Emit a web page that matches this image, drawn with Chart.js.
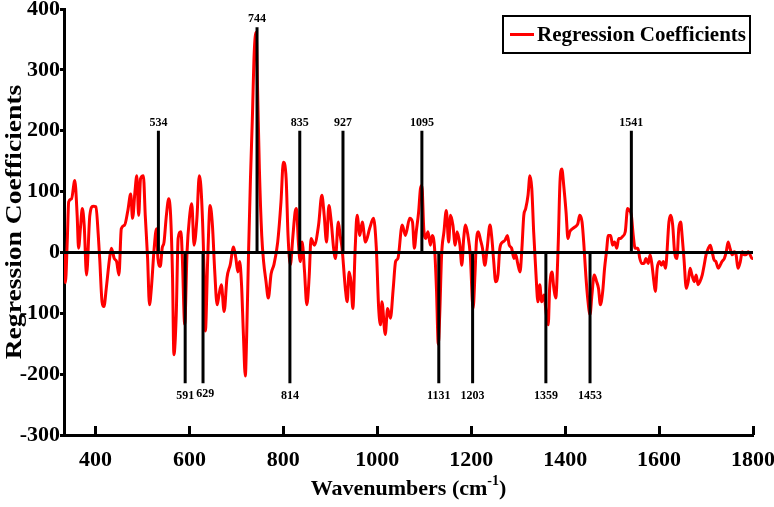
<!DOCTYPE html>
<html>
<head>
<meta charset="utf-8">
<script src="https://cdn.jsdelivr.net/npm/chart.js@4"></script>
<style>
  body { margin: 0; background: #fff; }
  #wrap { width: 774px; height: 507px; }
</style>
</head>
<body>
<div id="wrap"><canvas id="grafica" width="774" height="507"></canvas></div>
<script>
// espectro
const waves = [
  333, 336, 340, 343, 349, 356, 361, 364, 368, 372, 376, 381, 388, 395, 401, 406, 409, 414, 418, 423,
  430, 434, 440, 445, 450, 455, 462, 469, 475, 479, 484, 488, 492, 496, 502, 506, 511, 515, 519, 525,
  530, 533, 538, 542, 546, 551, 556, 560, 564, 567, 572, 576, 582, 585, 590, 595, 600, 605, 610, 616,
  621, 626, 632, 634, 639, 644, 649, 654, 659, 663, 668, 674, 680, 687, 694, 699, 703, 707, 711, 715,
  719, 722, 726, 730, 734, 738, 742, 745, 749, 754, 758, 763, 768, 774, 780, 788, 795, 800, 806, 810,
  815, 820, 825, 828, 832, 836, 840, 845, 850, 855, 859, 866, 875, 882, 887, 892, 897, 902, 907, 911,
  917, 921, 925, 932, 936, 940, 944, 948, 953, 957, 963, 968, 975, 984, 992, 998, 1003, 1007, 1010, 1017,
  1022, 1028, 1034, 1039, 1044, 1053, 1060, 1069, 1075, 1079, 1083, 1088, 1092, 1095, 1099, 1103, 1108, 1113, 1117, 1122,
  1126, 1130, 1133, 1137, 1142, 1147, 1152, 1156, 1161, 1166, 1170, 1176, 1180, 1184, 1188, 1193, 1198, 1204, 1208, 1211,
  1215, 1220, 1224, 1229, 1234, 1240, 1244, 1248, 1252, 1257, 1261, 1267, 1272, 1277, 1281, 1286, 1291, 1295, 1299, 1304,
  1308, 1312, 1316, 1321, 1325, 1329, 1333, 1338, 1342, 1346, 1350, 1355, 1360, 1364, 1367, 1372, 1376, 1380, 1385, 1389,
  1393, 1397, 1402, 1406, 1410, 1416, 1421, 1427, 1431, 1436, 1440, 1444, 1448, 1453, 1457, 1462, 1467, 1471, 1475, 1480,
  1484, 1488, 1492, 1497, 1501, 1505, 1510, 1514, 1518, 1522, 1528, 1533, 1537, 1541, 1545, 1549, 1555, 1559, 1563, 1568,
  1572, 1577, 1581, 1585, 1589, 1592, 1596, 1601, 1605, 1609, 1614, 1616, 1621, 1625, 1629, 1633, 1638, 1642, 1646, 1649,
  1653, 1658, 1662, 1666, 1670, 1675, 1679, 1683, 1687, 1692, 1696, 1700, 1705, 1709, 1713, 1717, 1721, 1726, 1730, 1734,
  1739, 1743, 1747, 1751, 1756, 1760, 1764, 1768, 1773, 1777, 1781, 1785, 1790, 1794, 1798, 1800
];
const coeffs = [
  -2, -50, 20, 83, 88, 118, 61, 7, 40, 72, 45, -37, 61, 76, 75, 28, -10, -81, -89, -59,
  -10, 7, -10, -15, -37, 39, 45, 69, 96, 56, 99, 126, 61, 121, 126, 61, -10, -86, -59, 7,
  39, -10, -23, 7, 17, 61, 88, 61, -37, -168, -102, 23, 34, -10, -118, 1, 56, 80, 12, 56,
  126, 88, -53, -129, -10, 77, 45, -32, -86, -70, -53, -97, -42, -20, 9, -10, -32, -15, -53, -135,
  -203, -135, 1, 121, 219, 328, 362, 273, 137, 28, -15, -47, -75, -35, -20, 17, 83, 148, 121, 28,
  -20, 23, 66, 72, 17, -15, 17, -30, -86, -40, 23, 12, 45, 94, 61, 17, 77, 50, 7, -10,
  50, 28, 7, -59, -81, -32, -48, -92, 7, 61, 28, 50, 17, 40, 56, 7, -92, -119, -81, -135,
  -92, -108, -59, -15, -10, 45, 28, 56, 50, 7, 34, 66, 105, 110, 39, 23, 34, 12, 28, 7,
  -59, -151, -102, -4, 34, 69, 17, 61, 45, 12, 34, 12, -21, 23, 45, 28, -4, -92, -37, 17,
  34, 20, 7, -21, 7, 45, 23, -15, -48, -37, 7, 17, 20, 28, 12, 7, -10, -4, -18, -32,
  7, 61, 72, 94, 126, 105, 34, -37, -81, -53, -81, -70, -102, -119, -59, -32, -59, -75, 7, 115,
  137, 110, 66, 23, 34, 39, 42, 47, 61, 50, 12, -37, -75, -102, -70, -37, -48, -59, -86, -64,
  -26, 1, 28, 28, 12, 17, 7, 23, 23, 26, 34, 72, 69, 61, 28, 7, 7, -10, -18, -18,
  -10, -18, -4, -21, -48, -64, -26, -15, -21, -15, -26, -10, 50, 61, 45, 1, -10, 39, 50, 28,
  -10, -59, -48, -26, -37, -48, -37, -53, -48, -37, -21, -4, 7, 12, 1, -12, -15, -26, -21, -15,
  -10, 1, 17, 7, -4, 1, -4, -26, -15, 1, -4, -4, 1, -4, -10, -8
];

// bandas marcadas
const markerWaves = [534, 591, 629, 744, 814, 835, 927, 1095, 1131, 1203, 1359, 1453, 1541];
const markerEnds = [200, -215, -215, 370, -215, 200, 200, 200, -215, -215, -215, -215, 200];

const xTicks = [400, 600, 800, 1000, 1200, 1400, 1600, 1800];
const xMin = 333, xMax = 1800;
const seriesLabel = 'Regression Coefficients';
const yTitle = 'Regression Coefficients';

const serif = '"Liberation Serif", "Times New Roman", serif';
Chart.defaults.font.family = serif;

const markerPts = [];
markerWaves.forEach(function (w, i) {
    markerPts.push({x: w, y: 0}, {x: w, y: markerEnds[i]}, {x: w, y: null});
});

const extras = {
    id: 'extras',
    afterDraw(chart) {
        const ctx = chart.ctx;
        const a = chart.chartArea;
        const sx = chart.scales.x, sy = chart.scales.y;
        ctx.save();
        ctx.fillStyle = '#000';
        ctx.strokeStyle = '#000';

        // ticks hacia dentro en el eje x
        ctx.lineWidth = 3;
        xTicks.forEach(function (v) {
            const px = Math.round(sx.getPixelForValue(v)) + 0.5;
            ctx.beginPath();
            ctx.moveTo(px, a.bottom);
            ctx.lineTo(px, a.bottom - 9);
            ctx.stroke();
        });

        // etiquetas de las bandas (separa las que se pisan)
        ctx.font = 'bold 12px ' + serif;
        ctx.textAlign = 'center';
        let lastRight = -1e9;
        markerWaves.forEach(function (w, i) {
            let px = sx.getPixelForValue(w);
            let py = sy.getPixelForValue(markerEnds[i]);
            const tw = ctx.measureText(String(w)).width;
            if (markerEnds[i] > 0) {
                ctx.textBaseline = 'bottom';
                ctx.fillText(String(w), px, py - 2);
            } else {
                let dy = 7;
                if (px - tw / 2 < lastRight + 2) {
                    px = lastRight + 2 + tw / 2;
                    dy = 5;
                }
                ctx.textBaseline = 'top';
                ctx.fillText(String(w), px, py + dy);
                lastRight = px + tw / 2;
            }
        });

        // leyenda con marco
        const bx = a.right - 250, by = a.top + 7, bw = 247, bh = 37;
        ctx.lineWidth = 2;
        ctx.strokeRect(bx, by, bw, bh);
        ctx.strokeStyle = '#ff0000';
        ctx.lineWidth = 3;
        ctx.beginPath();
        ctx.moveTo(bx + 7, by + bh / 2);
        ctx.lineTo(bx + 31, by + bh / 2);
        ctx.stroke();
        ctx.font = 'bold 21px ' + serif;
        ctx.textAlign = 'left';
        ctx.textBaseline = 'middle';
        ctx.fillText(seriesLabel, bx + 34, by + bh / 2 + 1);

        // título eje y
        ctx.save();
        ctx.translate(15, (a.top + a.bottom) / 2);
        ctx.rotate(-Math.PI / 2);
        ctx.scale(1.2, 1);
        ctx.font = 'bold 23px ' + serif;
        ctx.textAlign = 'center';
        ctx.textBaseline = 'middle';
        ctx.fillText(yTitle, 0, 0);
        ctx.restore();

        // título eje x con superíndice
        const main = 'Wavenumbers (cm', sup = '-1', close = ')';
        ctx.font = 'bold 22px ' + serif;
        const w1 = ctx.measureText(main).width;
        const w3 = ctx.measureText(close).width;
        ctx.font = 'bold 14px ' + serif;
        const w2 = ctx.measureText(sup).width;
        let tx = (a.left + a.right) / 2 - (w1 + w2 + w3) / 2;
        const base = 495;
        ctx.textAlign = 'left';
        ctx.textBaseline = 'alphabetic';
        ctx.font = 'bold 22px ' + serif;
        ctx.fillText(main, tx, base);
        ctx.font = 'bold 14px ' + serif;
        ctx.fillText(sup, tx + w1, base - 10);
        ctx.font = 'bold 22px ' + serif;
        ctx.fillText(close, tx + w1 + w2, base);
        ctx.restore();
    }
};

const chart = new Chart(document.getElementById('grafica').getContext('2d'), {
    type: 'line',
    data: {
        datasets: [{
            label: 'bands',
            data: markerPts,
            borderColor: '#000',
            borderWidth: 3,
            spanGaps: false,
            order: 0
        }, {
            label: 'zero',
            data: [{x: xMin, y: 0}, {x: xMax, y: 0}],
            borderColor: '#000',
            borderWidth: 3,
            order: 0
        }, {
            label: seriesLabel,
            data: waves.map(function (w, i) { return {x: w, y: coeffs[i]}; }),
            borderColor: '#ff0000',
            borderWidth: 3,
            cubicInterpolationMode: 'monotone',
            order: 1
        }]
    },
    options: {
        responsive: false,
        animation: false,
        devicePixelRatio: 1,
        layout: {padding: 0},
        elements: {point: {radius: 0}},
        plugins: {legend: {display: false}, tooltip: {enabled: false}},
        scales: {
            x: {
                type: 'linear',
                min: xMin,
                max: xMax,
                afterBuildTicks: function (s) { s.ticks = xTicks.map(function (v) { return {value: v}; }); },
                afterFit: function (s) { s.height = 72; s.paddingRight = 21; },
                border: {color: '#000', width: 3},
                grid: {drawOnChartArea: false, drawTicks: false},
                ticks: {
                    autoSkip: false, maxRotation: 0, padding: 12, color: '#000',
                    font: {size: 22, weight: 'bold'},
                    callback: function (v) { return String(v); }
                }
            },
            y: {
                min: -300,
                max: 400,
                afterFit: function (s) { s.width = 64; s.paddingTop = 9; },
                border: {color: '#000', width: 3},
                grid: {drawOnChartArea: false, tickLength: 4, tickColor: '#000', tickWidth: 3},
                ticks: {stepSize: 100, padding: 0, color: '#000', font: {size: 22, weight: 'bold'}}
            }
        }
    },
    plugins: [extras]
});
</script>
</body>
</html>
